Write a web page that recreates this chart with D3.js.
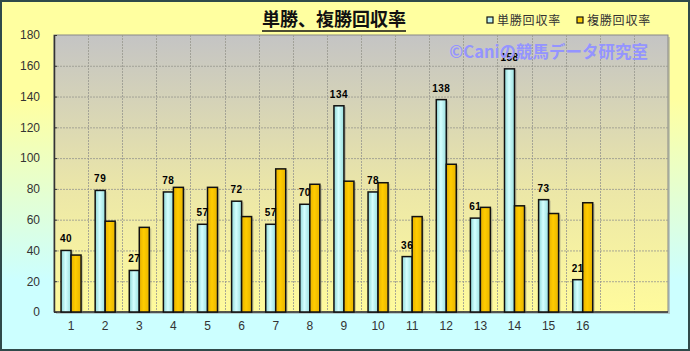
<!DOCTYPE html>
<html>
<head>
<meta charset="utf-8">
<script src="https://cdnjs.cloudflare.com/ajax/libs/d3/7.8.5/d3.min.js"></script>
<style>
	body { margin: 0; padding: 0; }
	svg { display: block; }
	.ylab, .xlab { font-family: "Liberation Sans", Arial, sans-serif; font-size: 12px; fill: #333; }
	.vlab { font-family: "Liberation Sans", Arial, sans-serif; font-size: 10px; font-weight: bold; fill: #000; letter-spacing: 0.5px; }
	.jp { font-family: "Noto Sans CJK JP", sans-serif; }
</style>
</head>
<body>
<script>
//chart data
var categories = ["1","2","3","4","5","6","7","8","9","10","11","12","13","14","15","16","17","18"];
var tanshoValues = [40, 79, 27, 78, 57, 72, 57, 70, 134, 78, 36, 138, 61, 158, 73, 21];
var fukushoValues = [37, 59, 55, 81, 81, 62, 93, 83, 85, 84, 62, 96, 68, 69, 64, 71];
var xTickLabels = ["1","2","3","4","5","6","7","8","9","10","11","12","13","14","15","16","",""];
var yTicks = [0, 20, 40, 60, 80, 100, 120, 140, 160, 180];
var seriesNames = ["単勝回収率", "複勝回収率"];

var width = 690,
	height = 351;

var plot = {left: 54, top: 35, right: 668, bottom: 312};

var svg = d3.select("body")
	.append("svg")
	.attr("width", width)
	.attr("height", height);

var defs = svg.append("defs");

//outer background gradient
var bgGrad = defs.append("linearGradient").attr("id", "bgGrad")
	.attr("x1", 0).attr("y1", 0).attr("x2", 0).attr("y2", 1);
bgGrad.append("stop").attr("offset", "0%").attr("stop-color", "#ffffa0");
bgGrad.append("stop").attr("offset", "28%").attr("stop-color", "#ffffa0");
bgGrad.append("stop").attr("offset", "80%").attr("stop-color", "#ccffff");
bgGrad.append("stop").attr("offset", "100%").attr("stop-color", "#ccffff");

//plot area gradient
var plotGrad = defs.append("linearGradient").attr("id", "plotGrad")
	.attr("x1", 0).attr("y1", 0).attr("x2", 0).attr("y2", 1);
plotGrad.append("stop").attr("offset", "0%").attr("stop-color", "#c4c4c4");
plotGrad.append("stop").attr("offset", "55%").attr("stop-color", "#ebe6a8");
plotGrad.append("stop").attr("offset", "100%").attr("stop-color", "#fffb9c");

//bar gradients
var blueGrad = defs.append("linearGradient").attr("id", "blueGrad")
	.attr("x1", 0).attr("y1", 0).attr("x2", 1).attr("y2", 0);
blueGrad.append("stop").attr("offset", "0%").attr("stop-color", "#8fd6d6");
blueGrad.append("stop").attr("offset", "45%").attr("stop-color", "#d4ffff");
blueGrad.append("stop").attr("offset", "100%").attr("stop-color", "#99dede");

var goldGrad = defs.append("linearGradient").attr("id", "goldGrad")
	.attr("x1", 0).attr("y1", 0).attr("x2", 1).attr("y2", 0);
goldGrad.append("stop").attr("offset", "0%").attr("stop-color", "#e6b000");
goldGrad.append("stop").attr("offset", "45%").attr("stop-color", "#ffcc00");
goldGrad.append("stop").attr("offset", "100%").attr("stop-color", "#e8b400");

//background + border
svg.append("rect")
	.attr("x", 1).attr("y", 1)
	.attr("width", width - 2).attr("height", height - 2)
	.attr("fill", "url(#bgGrad)")
	.attr("stroke", "#2f4a4a")
	.attr("stroke-width", 2);

//scales
var x = d3.scaleBand()
	.domain(categories)
	.range([plot.left, plot.right]);

var y = d3.scaleLinear()
	.domain([0, 180])
	.range([plot.bottom, plot.top]);

//plot shadow
svg.append("rect")
	.attr("x", plot.left + 2).attr("y", plot.top + 2)
	.attr("width", plot.right - plot.left).attr("height", plot.bottom - plot.top)
	.attr("fill", "#999").attr("opacity", 0.5);

//plot area
svg.append("rect")
	.attr("x", plot.left).attr("y", plot.top)
	.attr("width", plot.right - plot.left).attr("height", plot.bottom - plot.top)
	.attr("fill", "url(#plotGrad)")
	.attr("stroke", "#888")
	.attr("stroke-width", 1);

//horizontal gridlines
svg.selectAll(".hgrid")
	.data(yTicks.slice(1, -1))
	.enter()
	.append("line")
	.attr("class", "hgrid")
	.attr("x1", plot.left).attr("x2", plot.right)
	.attr("y1", function(d){ return y(d) + 0.5; })
	.attr("y2", function(d){ return y(d) + 0.5; })
	.attr("stroke", "#9a9a90")
	.attr("stroke-opacity", 0.85)
	.attr("stroke-dasharray", "2,1");

//vertical gridlines
svg.selectAll(".vgrid")
	.data(categories.slice(1))
	.enter()
	.append("line")
	.attr("class", "vgrid")
	.attr("x1", function(d){ return Math.round(x(d)) + 0.5; })
	.attr("x2", function(d){ return Math.round(x(d)) + 0.5; })
	.attr("y1", plot.top).attr("y2", plot.bottom)
	.attr("stroke", "#9a9a90")
	.attr("stroke-opacity", 0.85)
	.attr("stroke-dasharray", "2,1");

//axes lines
svg.append("line")
	.attr("x1", plot.left + 0.5).attr("x2", plot.left + 0.5)
	.attr("y1", plot.top).attr("y2", plot.bottom)
	.attr("stroke", "#333").attr("stroke-width", 1.5);
svg.append("line")
	.attr("x1", plot.left).attr("x2", plot.right)
	.attr("y1", plot.bottom).attr("y2", plot.bottom)
	.attr("stroke", "#333").attr("stroke-width", 1.5);

//y axis
var yAxis = d3.axisLeft(y)
	.tickValues(yTicks)
	.tickSize(3)
	.tickPadding(11);
var yAxisG = svg.append("g")
	.attr("transform", "translate(" + plot.left + ",0)")
	.call(yAxis);
yAxisG.select(".domain").remove();
yAxisG.selectAll("line").attr("stroke", "#333").attr("x2", 3);
yAxisG.selectAll("text").attr("class", "ylab").attr("fill", null);

//x axis
var xAxis = d3.axisBottom(x)
	.tickSize(0)
	.tickPadding(9)
	.tickFormat(function(d, i){ return xTickLabels[i]; });
var xAxisG = svg.append("g")
	.attr("transform", "translate(0," + plot.bottom + ")")
	.call(xAxis);
xAxisG.select(".domain").remove();
xAxisG.selectAll("text").attr("class", "xlab").attr("fill", null);

//bars
var barW = 10;
var bars = svg.append("g");

function drawSeries(values, offset, fill, cls){
	var data = values.map(function(v, i){ return {cat: categories[i], v: v}; });
	bars.selectAll("." + cls + "s")
		.data(data)
		.enter()
		.append("rect")
		.attr("x", function(d){ return x(d.cat) + x.bandwidth() / 2 + offset + 2; })
		.attr("y", function(d){ return y(d.v) + 1; })
		.attr("width", barW)
		.attr("height", function(d){ return y(0) - y(d.v) - 1; })
		.attr("fill", "#777").attr("opacity", 0.35);
	bars.selectAll("." + cls)
		.data(data)
		.enter()
		.append("rect")
		.attr("class", cls)
		.attr("x", function(d){ return x(d.cat) + x.bandwidth() / 2 + offset; })
		.attr("y", function(d){ return y(d.v); })
		.attr("width", barW)
		.attr("height", function(d){ return y(0) - y(d.v); })
		.attr("fill", fill)
		.attr("stroke", "#111")
		.attr("stroke-width", 1.5);
}
drawSeries(tanshoValues, -barW, "url(#blueGrad)", "tbar");
drawSeries(fukushoValues, 0, "url(#goldGrad)", "fbar");

//value labels on tansho bars
svg.selectAll(".vlab")
	.data(tanshoValues)
	.enter()
	.append("text")
	.attr("class", "vlab")
	.attr("text-anchor", "middle")
	.attr("x", function(d, i){ return x(categories[i]) + x.bandwidth() / 2 - barW / 2; })
	.attr("y", function(d){ return y(d) - 8; })
	.text(function(d){ return d; });

//watermark (drawn over the labels, as in the original)
svg.append("text")
	.attr("class", "jp")
	.attr("x", 648).attr("y", 58)
	.attr("text-anchor", "end")
	.attr("font-size", "16.5px")
	.attr("font-weight", "bold")
	.attr("fill", "#9494ff")
	.text("©Caniの競馬データ研究室");

//title
var title = svg.append("text")
	.attr("class", "jp")
	.attr("x", 334).attr("y", 26)
	.attr("text-anchor", "middle")
	.attr("font-size", "18px")
	.attr("font-weight", "bold")
	.attr("fill", "#111")
	.text("単勝、複勝回収率");
var tb = title.node().getBBox();
svg.append("line")
	.attr("x1", tb.x).attr("x2", tb.x + tb.width)
	.attr("y1", 31).attr("y2", 31)
	.attr("stroke", "#111").attr("stroke-width", 1.5);

//legend
var legendX = [487, 577];
var legendFill = ["#bff4f4", "#ffcc00"];
seriesNames.forEach(function(name, i){
	svg.append("rect")
		.attr("x", legendX[i]).attr("y", 17)
		.attr("width", 6).attr("height", 6)
		.attr("fill", legendFill[i])
		.attr("stroke", "#111").attr("stroke-width", 1.2);
	svg.append("text")
		.attr("class", "jp")
		.attr("x", legendX[i] + 10).attr("y", 24.5)
		.attr("font-size", "12px")
		.attr("letter-spacing", "0.8px")
		.attr("fill", "#333")
		.text(name);
});
</script>
</body>
</html>
